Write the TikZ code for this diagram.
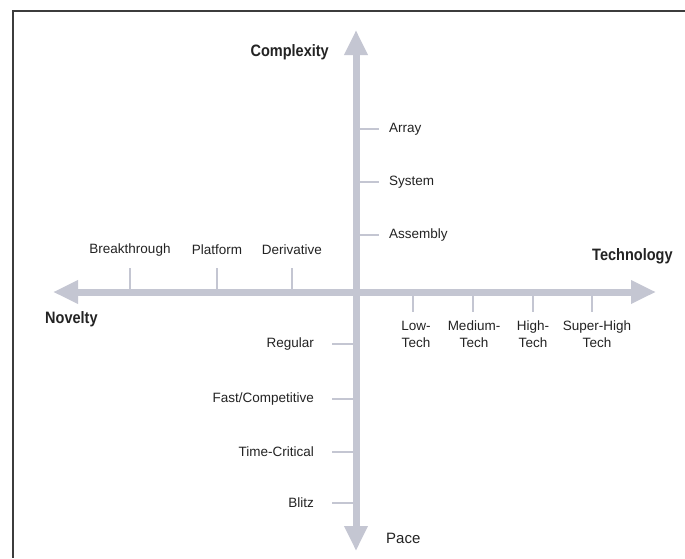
\documentclass[tikz,border=0pt]{standalone}
\usepackage{fontspec}
\setmainfont{Liberation Sans}
\newfontfamily\headfont[FakeStretch=0.88]{Liberation Sans}
\usetikzlibrary{arrows.meta}
\definecolor{axisgray}{RGB}{196,198,210}
\definecolor{inkgray}{RGB}{35,35,35}
\definecolor{framegray}{RGB}{60,60,60}

\begin{document}
\begin{tikzpicture}[x=1pt,y=-1pt,
  axis/.style={draw=axisgray, line width=7pt,
    {Triangle[width=22pt,length=25pt]}-{Triangle[width=22pt,length=25pt]}},
  tickmark/.style={draw=axisgray, line width=2.5pt},
  lbl/.style={font=\fontsize{13.5}{17}\selectfont, text=inkgray, inner sep=0pt},
  head/.style={font=\headfont\bfseries\fontsize{16.5}{19}\selectfont, text=inkgray, inner sep=0pt},
]
% canvas
\fill[white] (0,0) rectangle (685,558);
\useasboundingbox (0,0) rectangle (685,558);

% frame (top and left rules)
\draw[framegray, line width=2pt] (685,11) -- (13,11) -- (13,558);

% axis end points
\coordinate (hl) at (53,292);
\coordinate (hr) at (656,292);
\coordinate (vt) at (356,30);
\coordinate (vb) at (356,551);

% axes
\draw[axis] (hl) -- (hr);
\draw[axis] (vb) -- (vt);

% complexity ticks (right of vertical axis)
\foreach \name/\yy/\txt in {arr/129/Array, sys/182/System, asm/235/Assembly}{
  \coordinate (\name a) at (359,\yy);
  \coordinate (\name b) at (379,\yy);
  \draw[tickmark] (\name a) -- (\name b);
  \node[lbl, anchor=west] (\name) at (389,\yy) {\txt};
}

% pace ticks (left of vertical axis)
\foreach \name/\yy/\txt in {reg/344/Regular, fast/399/{Fast/Competitive}, time/452/Time-Critical, blitz/503/Blitz}{
  \coordinate (\name a) at (332,\yy);
  \coordinate (\name b) at (353,\yy);
  \draw[tickmark] (\name a) -- (\name b);
  \node[lbl, anchor=east] (\name) at (314,\yy) {\txt};
}

% novelty ticks (above horizontal axis)
\foreach \name/\xx/\txt in {brk/130/Breakthrough, plat/217/Platform, deriv/292/Derivative}{
  \coordinate (\name a) at (\xx,268);
  \coordinate (\name b) at (\xx,289);
  \draw[tickmark] (\name a) -- (\name b);
  \node[lbl] (\name) at (\xx,250) {\txt};
}

% technology ticks (below horizontal axis)
\foreach \name/\xx/\lx/\txt in {low/413/416/{Low-\\Tech}, med/473/474/{Medium-\\Tech}, high/533/533/{High-\\Tech}, sup/592/597/{Super-High\\Tech}}{
  \coordinate (\name a) at (\xx,296);
  \coordinate (\name b) at (\xx,312);
  \draw[tickmark] (\name a) -- (\name b);
  \node[lbl, align=center, anchor=north] (\name) at (\lx,321) {\txt};
}

% axis titles
\node[head, anchor=east] (complexity) at (329,52) {Complexity};
\node[head, anchor=west] (technology) at (592,256) {Technology};
\node[head, anchor=west] (novelty) at (45,319) {Novelty};
\node[lbl, font=\fontsize{15}{18}\selectfont, anchor=west] (pace) at (386,538) {Pace};
\end{tikzpicture}
\end{document}
